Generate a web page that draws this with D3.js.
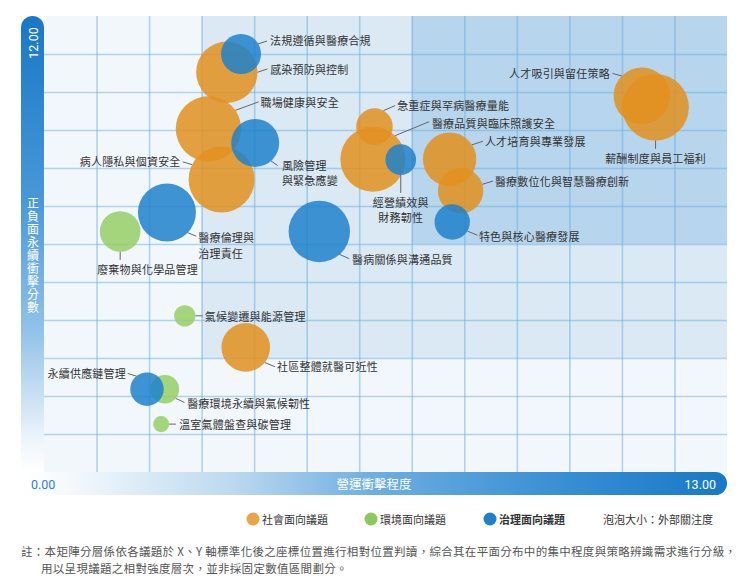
<!DOCTYPE html>
<html><head><meta charset="utf-8">
<script src="https://cdn.jsdelivr.net/npm/d3@7"></script>
<style>
html,body{margin:0;padding:0;background:#fff;}
svg{display:block;font-family:"Noto Sans CJK TC","Noto Sans",sans-serif;}
</style></head>
<body><svg id="chart" width="748" height="585"></svg>
<script>
// ---------- DATA ----------
const categories = ["社會面向議題", "環境面向議題", "治理面向議題"];
const issueNames = ["感染預防與控制","法規遵循與醫療合規","職場健康與安全","病人隱私與個資安全","風險管理與緊急應變","醫療倫理與治理責任","廢棄物與化學品管理","醫病關係與溝通品質","氣候變遷與能源管理","社區整體就醫可近性","醫療環境永續與氣候韌性","永續供應鏈管理","溫室氣體盤查與碳管理","醫療品質與臨床照護安全","急重症與罕病醫療量能","經營績效與財務韌性","人才培育與專業發展","醫療數位化與智慧醫療創新","特色與核心醫療發展","人才吸引與留任策略","薪酬制度與員工福利"];
const issueCategory = [0,2,0,0,2,2,1,2,1,0,1,2,1,0,0,2,0,0,2,0,0];
const operationalImpact = [3.48,3.75,3.13,3.38,4.02,2.34,1.45,5.24,2.68,3.84,2.30,1.96,2.23,6.26,6.29,6.79,7.72,7.93,7.77,11.38,11.64];
const sustainabilityImpact = [10.52,11.00,9.03,7.70,8.66,6.83,6.33,6.33,4.11,3.28,2.18,2.18,1.26,8.23,9.09,8.22,8.23,7.40,6.58,9.90,9.60];
const externalAttention = [8.50,3.61,9.64,9.82,5.19,7.58,3.72,8.50,1.03,5.33,1.84,2.52,0.58,9.53,3.02,2.11,6.43,4.65,2.83,7.22,10.0];
const xDomain = [0, 13];
const yDomain = [0, 12];
const xMinLabel = "0.00", xMaxLabel = "13.00", yMaxLabel = "12.00";
const xTitle = "營運衝擊程度";
const yTitle = "正負面永續衝擊分數";
const sizeLegendText = "泡泡大小：外部關注度";
const footnoteLines = ["註：本矩陣分層係依各議題於 X、Y 軸標準化後之座標位置進行相對位置判讀，綜合其在平面分布中的集中程度與策略辨識需求進行分級，","用以呈現議題之相對強度層次，並非採固定數值區間劃分。"];
// zone thresholds (data units)
const zoneMid = {x: 3, y: 3};
const zoneHigh = {x: 7, y: 6};

// ---------- STYLE / LAYOUT ----------
const catColors = ["#e2911f", "#97ce65", "#1f81cb"];
const legendColors = ["#eba347", "#8dc85a", "#1f7fc8"];
const M = {left: 44, right: 727, top: 16, bottom: 472};
// label layout: ang = leader start angle on bubble edge, (ex,ey) leader end offset, (tx,ty) text offset, split = line break index
const labelLayout = {
 "感染預防與控制": {ang:0, ex:40.6, ey:-3.3, tx:43.3, ty:-3.3, anchor:"start"},
 "法規遵循與醫療合規": {ang:-30.5, ex:26, ey:-13, tx:29, ty:-14, anchor:"start"},
 "職場健康與安全": {ang:-34.5, ex:50.2, ey:-27, tx:52, ty:-26.7, anchor:"start"},
 "病人隱私與個資安全": {ang:-153.4, ex:-39, ey:-17.6, tx:-41, ty:-18.3, anchor:"end"},
 "風險管理與緊急應變": {ang:48.7, ex:22.4, ey:22.7, tx:26.7, ty:22, anchor:"start", split:4},
 "醫療倫理與治理責任": {ang:44.2, ex:29.3, ey:23.7, tx:31.3, ty:24.7, anchor:"start", split:5},
 "廢棄物與化學品管理": {ang:90, ex:0, ey:28.4, tx:-23, ty:37.7, anchor:"start"},
 "醫病關係與溝通品質": {ang:48.6, ex:30, ey:27.2, tx:32.7, ty:27.5, anchor:"start"},
 "氣候變遷與能源管理": {ang:0, ex:18, ey:0, tx:20, ty:0, anchor:"start"},
 "社區整體就醫可近性": {ang:38.6, ex:29.3, ey:19.4, tx:31.3, ty:18.4, anchor:"start"},
 "醫療環境永續與氣候韌性": {ang:40.2, ex:19.6, ey:13.3, tx:22.3, ty:13.7, anchor:"start"},
 "永續供應鏈管理": {ang:-129, ex:-19.3, ey:-15.7, tx:-21, ty:-15.7, anchor:"end"},
 "溫室氣體盤查與碳管理": {ang:0, ex:14.7, ey:0, tx:18, ty:0.3, anchor:"start"},
 "醫療品質與臨床照護安全": {ang:-46.6, ex:56.3, ey:-37.6, tx:59, ty:-36.3, anchor:"start"},
 "急重症與罕病醫療量能": {ang:-60.6, ex:20.7, ey:-21, tx:22.7, ty:-21.2, anchor:"start"},
 "經營績效與財務韌性": {ang:90, ex:0, ey:33.3, tx:0, ty:42, anchor:"middle", split:5},
 "人才培育與專業發展": {ang:-32.8, ex:33.3, ey:-18, tx:35.3, ty:-18.3, anchor:"start"},
 "醫療數位化與智慧醫療創新": {ang:-16.7, ex:32.3, ey:-9.7, tx:34.3, ty:-9.7, anchor:"start"},
 "特色與核心醫療發展": {ang:31.2, ex:25.3, ey:13.3, tx:26.7, ty:14, anchor:"start"},
 "人才吸引與留任策略": {ang:-135.4, ex:-29.4, ey:-22.4, tx:-32, ty:-22.7, anchor:"end"},
 "薪酬制度與員工福利": {ang:90, ex:0, ey:41.7, tx:0, ty:50.7, anchor:"middle"}
};

const svg = d3.select("#chart");
const x = d3.scaleLinear().domain(xDomain).range([M.left, M.right]);
const y = d3.scaleLinear().domain(yDomain).range([M.bottom, M.top]);
const r = d3.scaleSqrt().domain([0, 10]).range([0, 33.3]);

const defs = svg.append("defs");
const gy = defs.append("linearGradient").attr("id","gy").attr("x1",0).attr("y1",0).attr("x2",0).attr("y2",1);
[[0,"#1878c6"],[0.4,"#4898d7"],[0.7,"#95c4e9"],[0.93,"#eef5fb"],[1,"#ffffff"]].forEach(s=>gy.append("stop").attr("offset",s[0]).attr("stop-color",s[1]));
const gx = defs.append("linearGradient").attr("id","gx").attr("x1",0).attr("y1",0).attr("x2",1).attr("y2",0);
[[0,"#ffffff"],[0.06,"#f6fafd"],[0.3,"#bcd9ef"],[0.5,"#6eaee0"],[0.75,"#3b91d4"],[1,"#1878c6"]].forEach(s=>gx.append("stop").attr("offset",s[0]).attr("stop-color",s[1]));

// plot background zones
svg.append("rect").attr("x",M.left).attr("y",M.top).attr("width",M.right-M.left).attr("height",M.bottom-M.top).attr("fill","#f2f7fc");
svg.append("rect").attr("x",x(zoneMid.x)).attr("y",y(yDomain[1])).attr("width",x(xDomain[1])-x(zoneMid.x)).attr("height",y(zoneMid.y)-y(yDomain[1])).attr("fill","#dae9f4");
svg.append("rect").attr("x",x(zoneHigh.x)).attr("y",y(yDomain[1])).attr("width",x(xDomain[1])-x(zoneHigh.x)).attr("height",y(zoneHigh.y)-y(yDomain[1])).attr("fill","#b7d5ec");

// grid via axes
const xt = d3.range(xDomain[0]+1, xDomain[1]);
const yt = d3.range(yDomain[0]+1, yDomain[1]);
const gridX = svg.append("g").attr("transform",`translate(0,${M.bottom})`)
  .call(d3.axisBottom(x).tickValues(xt).tickSize(-(M.bottom-M.top)).tickFormat(""));
const gridY = svg.append("g").attr("transform",`translate(${M.left},0)`)
  .call(d3.axisLeft(y).tickValues(yt).tickSize(-(M.right-M.left)).tickFormat(""));
[gridX, gridY].forEach(g=>{
  g.select(".domain").remove();
  g.selectAll(".tick line").attr("stroke","#6aaee4").attr("stroke-opacity",0.5).attr("stroke-width",1.6);
});

// y bar (rounded top)
const yb = {x0:21, x1:44, rr:11.5};
svg.append("path").attr("d",`M${yb.x0},${M.bottom} L${yb.x0},${M.top+yb.rr} A${yb.rr},${yb.rr} 0 0 1 ${yb.x1},${M.top+yb.rr} L${yb.x1},${M.bottom} Z`).attr("fill","url(#gy)");
// x bar (rounded right)
const xb = {y0:M.bottom, y1:495, rr:11.5};
svg.append("path").attr("d",`M21,${xb.y0} L${M.right-xb.rr},${xb.y0} A${xb.rr},${xb.rr} 0 0 1 ${M.right-xb.rr},${xb.y1} L21,${xb.y1} Z`).attr("fill","url(#gx)");

// axis texts
svg.append("text").attr("transform",`translate(38,${M.top+27}) rotate(-90)`).attr("text-anchor","middle")
  .attr("font-family","Roboto,'Noto Sans',sans-serif").attr("font-size",12.5).attr("fill","#fff").text(yMaxLabel);
svg.append("text").attr("x",33).attr("y",197.5).attr("writing-mode","vertical-rl").attr("text-orientation","upright")
  .attr("letter-spacing",1).attr("font-size",12).attr("fill","#fff").text(yTitle);
svg.append("text").attr("x",31).attr("y",488.5).attr("font-family","Roboto,'Noto Sans',sans-serif").attr("font-size",12.5).attr("fill","#2a84cc").text(xMinLabel);
svg.append("text").attr("x",716).attr("y",488.5).attr("text-anchor","end").attr("font-family","Roboto,'Noto Sans',sans-serif").attr("font-size",12.5).attr("fill","#fff").text(xMaxLabel);
svg.append("text").attr("x",374).attr("y",488.5).attr("text-anchor","middle").attr("font-size",12.5).attr("fill","#fff").text(xTitle);

// bubbles
const data = issueNames.map((n,i)=>({name:n, cat:issueCategory[i], x:operationalImpact[i], y:sustainabilityImpact[i], s:externalAttention[i]}));
svg.append("g").selectAll("circle").data(data).join("circle")
  .attr("cx",d=>x(d.x)).attr("cy",d=>y(d.y)).attr("r",d=>r(d.s))
  .attr("fill",d=>catColors[d.cat]).attr("fill-opacity",0.85);

// labels and leaders
const lg = svg.append("g");
data.forEach(d=>{
  const L = labelLayout[d.name]; if(!L) return;
  const cx = x(d.x), cy = y(d.y), rr = r(d.s);
  const a = L.ang*Math.PI/180;
  lg.append("line").attr("x1",cx+rr*Math.cos(a)).attr("y1",cy+rr*Math.sin(a))
    .attr("x2",cx+L.ex).attr("y2",cy+L.ey).attr("stroke","#666").attr("stroke-width",1);
  const lines = L.split ? [d.name.slice(0,L.split), d.name.slice(L.split)] : [d.name];
  const t = lg.append("text").attr("text-anchor",L.anchor).attr("font-size",11).attr("fill","#333")
    .attr("letter-spacing",0.2).attr("dominant-baseline","central");
  lines.forEach((ln,i)=>t.append("tspan").attr("x",cx+L.tx).attr("y",cy+L.ty+i*15.5).text(ln));
});

// legend
const legX = [253, 371, 490];
categories.forEach((c,i)=>{
  svg.append("circle").attr("cx",legX[i]).attr("cy",519).attr("r",6.5).attr("fill",legendColors[i]);
  svg.append("text").attr("x",legX[i]+9).attr("y",519).attr("dominant-baseline","central").attr("font-size",11)
    .attr("fill","#333").attr("font-weight",i===2?"bold":"normal").text(c);
});
svg.append("text").attr("x",603).attr("y",519).attr("dominant-baseline","central").attr("font-size",11).attr("fill","#333").text(sizeLegendText);

// footnote
svg.append("text").attr("x",21).attr("y",551).attr("dominant-baseline","central").attr("font-size",11.5).attr("fill","#555").attr("letter-spacing",0.3).text(footnoteLines[0]);
svg.append("text").attr("x",41).attr("y",568).attr("dominant-baseline","central").attr("font-size",11.5).attr("fill","#555").attr("letter-spacing",0.3).text(footnoteLines[1]);
</script></body></html>
